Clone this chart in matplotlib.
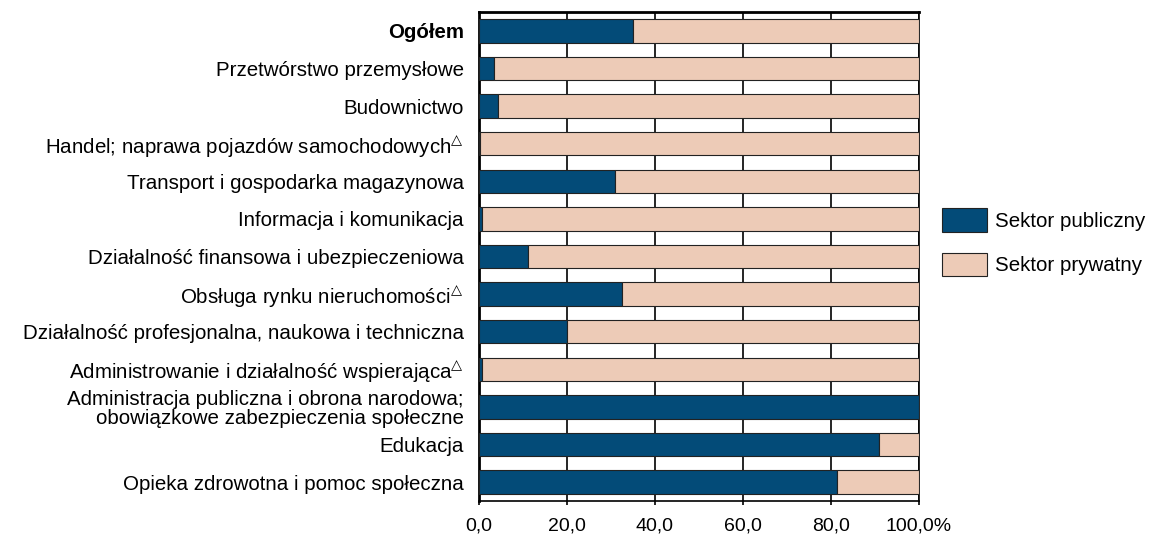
import matplotlib.pyplot as plt
import numpy as np

plt.rcParams['font.family'] = ['Liberation Sans', 'DejaVu Sans']
plt.rcParams['mathtext.fontset'] = 'dejavusans'

# categories (top to bottom)
categories = [
    'Ogółem',
    'Przetwórstwo przemysłowe',
    'Budownictwo',
    'Handel; naprawa pojazdów samochodowych$^{\\bigtriangleup}$',
    'Transport i gospodarka magazynowa',
    'Informacja i komunikacja',
    'Działalność finansowa i ubezpieczeniowa',
    'Obsługa rynku nieruchomości$^{\\bigtriangleup}$',
    'Działalność profesjonalna, naukowa i techniczna',
    'Administrowanie i działalność wspierająca$^{\\bigtriangleup}$',
    'Administracja publiczna i obrona narodowa;\nobowiązkowe zabezpieczenia społeczne',
    'Edukacja',
    'Opieka zdrowotna i pomoc społeczna',
]
public = [34.9, 3.5, 4.4, 0.2, 31.0, 0.6, 11.2, 32.5, 20.0, 0.8, 99.9, 90.9, 81.4]
private = [100 - v for v in public]
xticks = [0, 20, 40, 60, 80, 100]
xlabels = ['0,0', '20,0', '40,0', '60,0', '80,0', '100,0%']

blue = '#034B78'
beige = '#EDCBB7'

fig = plt.figure(figsize=(11.53, 5.38), dpi=100)
ax = fig.add_axes([0.4154, 0.0688, 0.797 - 0.4154, 0.9777 - 0.0688])

y = np.arange(len(categories))
ax.barh(y, public, height=0.625, color=blue, edgecolor='#222222', linewidth=0.8,
        label='Sektor publiczny', zorder=3)
ax.barh(y, private, left=public, height=0.625, color=beige, edgecolor='#222222',
        linewidth=0.8, label='Sektor prywatny', zorder=3)

ax.set_xlim(0, 100)
ax.set_ylim(len(categories) - 0.5, -0.5)
ax.set_yticks(y)
ax.set_yticklabels(categories, fontsize=14.8, linespacing=1.0)
ax.get_yticklabels()[0].set_fontweight('bold')
ax.tick_params(axis='y', length=0, pad=11)
ax.set_xticks(xticks)
ax.set_xticklabels(xlabels, fontsize=14)
ax.tick_params(axis='x', length=3, width=1.2, pad=9)

ax.grid(axis='x', color='black', linewidth=1.2, zorder=0)
ax.set_axisbelow(True)
for s in ['left', 'top']:
    ax.spines[s].set_linewidth(2)
for s in ['right', 'bottom']:
    ax.spines[s].set_linewidth(1.2)

fig.legend(loc='upper left', bbox_to_anchor=(0.810, 0.628), frameon=False,
           fontsize=14.8, handlelength=2.2, handleheight=1.4, handletextpad=0.35,
           labelspacing=1.0, borderaxespad=0)

fig.savefig('out.png', dpi=100)
